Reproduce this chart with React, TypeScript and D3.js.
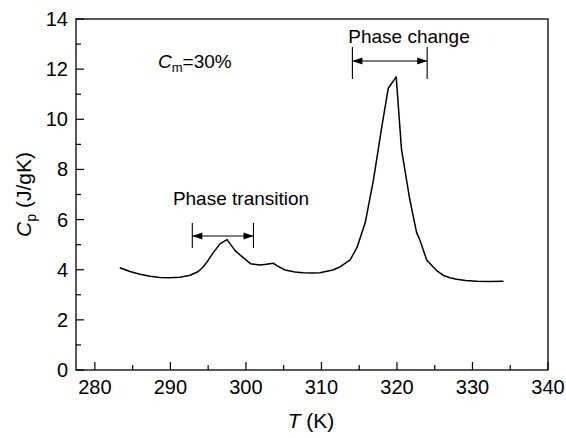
import React from "react";
import * as d3 from "d3";

const tempK = [283.3, 284.65, 285.97, 287.3, 288.6, 289.95, 291.27, 292.6, 293.65, 294.3, 294.9, 295.7, 296.6, 297.5, 298.6, 299.6, 300.6, 301.9, 302.7, 303.6, 304.1, 305.17, 306.5, 307.56, 308.75, 309.8, 311.5, 312.45, 313.8, 314.7, 315.8, 316.9, 318.0, 318.85, 319.9, 320.6, 321.7, 322.6, 323.0, 323.94, 324.77, 325.4, 326.1, 327.0, 327.9, 329.1, 330.6, 332.3, 334.1];
const cpValues = [4.08, 3.93, 3.82, 3.74, 3.69, 3.68, 3.7, 3.78, 3.92, 4.1, 4.33, 4.69, 5.04, 5.2, 4.75, 4.49, 4.24, 4.19, 4.22, 4.26, 4.16, 3.99, 3.91, 3.88, 3.87, 3.88, 3.99, 4.11, 4.39, 4.88, 5.88, 7.6, 9.72, 11.24, 11.69, 8.8, 6.8, 5.48, 5.21, 4.39, 4.12, 3.93, 3.78, 3.68, 3.62, 3.57, 3.54, 3.53, 3.54];
const xTicks = [280, 290, 300, 310, 320, 330, 340];
const xMinorTicks = [285, 295, 305, 315, 325, 335];
const yTicks = [0, 2, 4, 6, 8, 10, 12, 14];
const yMinorTicks = [1, 3, 5, 7, 9, 11, 13];
const transitionRange = [292.9, 301.0];
const changeRange = [314.1, 324.0];

const W = 566, H = 438;
const L = 76, R = 548, T = 19, B = 370;
const FONT = "Liberation Sans, Arial, sans-serif";

function DimArrow({ x1, x2, y, top, bottom }: { x1: number; x2: number; y: number; top: number; bottom: number }) {
  const ah = 10, aw = 3.5;
  return (
    <g stroke="#000" strokeWidth={1.1}>
      <line x1={x1} x2={x1} y1={top} y2={bottom} />
      <line x1={x2} x2={x2} y1={top} y2={bottom} />
      <line x1={x1} x2={x2} y1={y} y2={y} />
      <path d={`M${x1},${y}L${x1 + ah},${y - aw}L${x1 + ah},${y + aw}Z`} fill="#000" stroke="none" />
      <path d={`M${x2},${y}L${x2 - ah},${y - aw}L${x2 - ah},${y + aw}Z`} fill="#000" stroke="none" />
    </g>
  );
}

export default function App() {
  const x = d3.scaleLinear().domain([277.5, 340]).range([L, R]);
  const y = d3.scaleLinear().domain([0, 14]).range([B, T]);
  const pts = tempK.map((t, i) => [t, cpValues[i]] as [number, number]);
  const line = d3.line<[number, number]>().x(d => x(d[0])).y(d => y(d[1]));

  return (
    <svg width={W} height={H} style={{ position: "absolute", left: 0, top: 0, background: "#fff" }} fontFamily={FONT}>
      <rect x={0} y={0} width={W} height={H} fill="#fff" />
      <rect x={L} y={T} width={R - L} height={B - T} fill="none" stroke="#000" strokeWidth={1.3} />
      {xTicks.map(t => (
        <g key={"xt" + t}>
          <line x1={x(t)} x2={x(t)} y1={B} y2={B - 8} stroke="#000" strokeWidth={1.2} />
          <text x={x(t)} y={B + 24} textAnchor="middle" fontSize={20}>{t}</text>
        </g>
      ))}
      {xMinorTicks.map(t => (
        <line key={"xm" + t} x1={x(t)} x2={x(t)} y1={B} y2={B - 5} stroke="#000" strokeWidth={1.2} />
      ))}
      {yTicks.map(t => (
        <g key={"yt" + t}>
          <line x1={L} x2={L + 8} y1={y(t)} y2={y(t)} stroke="#000" strokeWidth={1.2} />
          <text x={L - 8} y={y(t) + 7} textAnchor="end" fontSize={20}>{t}</text>
        </g>
      ))}
      {yMinorTicks.map(t => (
        <line key={"ym" + t} x1={L} x2={L + 5} y1={y(t)} y2={y(t)} stroke="#000" strokeWidth={1.2} />
      ))}
      <path d={line(pts) || ""} fill="none" stroke="#000" strokeWidth={1.5} strokeLinejoin="round" />
      <DimArrow x1={x(transitionRange[0])} x2={x(transitionRange[1])} y={236} top={223} bottom={248} />
      <DimArrow x1={x(changeRange[0])} x2={x(changeRange[1])} y={61} top={47} bottom={79} />
      <text x={241} y={205} textAnchor="middle" fontSize={19}>Phase transition</text>
      <text x={409} y={43} textAnchor="middle" fontSize={19}>Phase change</text>
      <text x={158} y={68} fontSize={19}>
        <tspan fontStyle="italic">C</tspan>
        <tspan fontSize={13} dy={4}>m</tspan>
        <tspan dy={-4}>=30%</tspan>
      </text>
      <text transform={`translate(31,${(T + B) / 2}) rotate(-90)`} textAnchor="middle" fontSize={21}>
        <tspan fontStyle="italic">C</tspan>
        <tspan fontSize={14} dy={5}>p</tspan>
        <tspan dy={-5}> (J/gK)</tspan>
      </text>
      <text x={311} y={428} textAnchor="middle" fontSize={21}>
        <tspan fontStyle="italic">T</tspan>
        <tspan> (K)</tspan>
      </text>
    </svg>
  );
}
